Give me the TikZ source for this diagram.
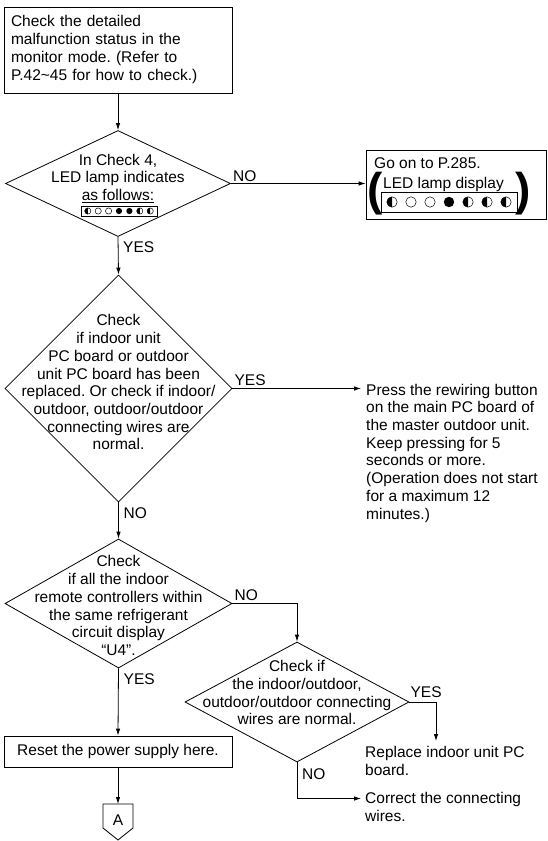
\documentclass[tikz,border=0pt]{standalone}
\usepackage{fontspec}
\setmainfont{Liberation Sans}
\usetikzlibrary{shapes.geometric,arrows.meta}
\frenchspacing
\newcommand\ledE[3]{\draw[line width=0.5pt] (#1,#2) circle (#3);}
\newcommand\ledF[3]{\fill (#1,#2) circle (#3);}
\newcommand\ledH[3]{\draw[line width=0.5pt] (#1,#2) circle (#3); \fill (#1,#2) ++(0,#3) arc (90:270:#3) -- cycle;}
\begin{document}
\begin{tikzpicture}[x=1pt,y=-1pt,
  every node/.style={font=\fontsize{15.5}{17.7}\selectfont},
  arr/.style={line width=0.8pt,-{Latex[length=7pt,width=4.5pt]}},
  ln/.style={line width=0.8pt},
  box/.style={draw,line width=0.8pt,inner sep=0pt},
  dia/.style={draw,diamond,line width=0.8pt,inner sep=0pt},
  txt/.style={align=center,inner sep=0pt},
  ltxt/.style={align=left,inner sep=0pt,anchor=north west},
  lblr/.style={inner sep=0pt,anchor=south west},
  lbld/.style={inner sep=0pt,anchor=north west},
]
\useasboundingbox (0,0) rectangle (548,841);

% box 1
\node[box, minimum width=228pt, minimum height=86pt, text width=214pt, align=left] (b1) at (118,50)
 {\strut Check the detailed\\ malfunction status in the\\ monitor mode. (Refer to\\ P.42\textasciitilde45 for how to check.)\strut};

% diamond 1
\node[dia, minimum width=225pt, minimum height=106pt] (d1) at (118,183.5) {};
\node[txt] (d1t) at (118,179.2) {\strut In Check 4,\\ LED lamp indicates\\ \underline{as follows:}\strut};
\draw[line width=0.7pt] (81,206) rectangle (157,216);
\ledH{87.8}{211}{3.1}\ledE{98.2}{211}{3.1}\ledE{108.6}{211}{3.1}\ledF{119}{211}{3.1}
\ledF{129.4}{211}{3.1}\ledH{139.8}{211}{3.1}\ledH{150.2}{211}{3.1}

% box 2
\node[box, minimum width=180pt, minimum height=69pt] (b2) at (456,184.5) {};
\node[inner sep=0pt, anchor=base west] (b2a) at (374,168) {Go on to P.285.};
\node[inner sep=0pt, anchor=base west] (b2b) at (383,188.5) {LED lamp display};
\node[inner sep=0pt, font=\fontsize{46}{46}\selectfont\bfseries] (pl) at (375,194) {(};
\node[inner sep=0pt, font=\fontsize{46}{46}\selectfont\bfseries] (pr) at (523,194) {)};
\draw[line width=0.8pt] (381,192) rectangle (517,212);
\ledH{392}{202}{5.2}\ledE{411}{202}{5.2}\ledE{430}{202}{5.2}\ledF{449}{202}{5.2}
\ledH{468}{202}{5.2}\ledH{487}{202}{5.2}\ledH{506}{202}{5.2}

% diamond 2
\node[dia, minimum width=227pt, minimum height=227pt] (d2) at (118.5,388.5) {};
\node[txt] (d2t) at (118.5,384.4) {\strut Check\\ if indoor unit\\ PC board or outdoor\\ unit PC board has been\\ replaced. Or check if indoor/\\ outdoor, outdoor/outdoor\\ connecting wires are\\ normal.\strut};
\node[ltxt] (n1) at (366,382.6) {\strut Press the rewiring button\\ on the main PC board of\\ the master outdoor unit.\\ Keep pressing for 5\\ seconds or more.\\ (Operation does not start\\ for a maximum 12\\ minutes.)\strut};
\coordinate (p1) at (361,388.5);

% diamond 3
\node[dia, minimum width=227pt, minimum height=129pt] (d3) at (118.5,603.5) {};
\node[txt] (d3t) at (118.5,607.7) {\strut Check\\ if all the indoor\\ remote controllers within\\ the same refrigerant\\ circuit display\\ “U4”.\strut};

% diamond 4
\node[dia, minimum width=224pt, minimum height=120pt] (d4) at (297,702) {};
\node[txt] (d4t) at (297,694.7) {\strut Check if\\ the indoor/outdoor,\\ outdoor/outdoor connecting\\ wires are normal.\strut};
\coordinate (k4) at (436,702);
\coordinate (r1) at (436,741);
\node[ltxt] (n2) at (365,745) {\strut Replace indoor unit PC\\ board.\strut};
\coordinate (k5) at (297,798.5);
\coordinate (c1) at (361,798.5);
\node[ltxt] (n3) at (365,791) {\strut Correct the connecting\\ wires.\strut};

% box 3
\node[box, minimum width=228pt, minimum height=31pt] (b3) at (118,751.5) {Reset the power supply here.};

% connector A
\coordinate (At) at (118,804);
\draw[line width=0.8pt] (103,804) -- (133,804) -- (133,828) -- (118,840) -- (103,828) -- cycle;
\node[inner sep=0pt] (A) at (118,820) {A};

% connectors
\draw[arr] (b1.south) -- (d1.north);
\draw[arr] (d1.east) -- (d1.east -| b2.west);
\draw[arr] (d1.south) -- (d2.north);
\draw[arr] (d2.east) -- (p1);
\draw[arr] (d2.south) -- (d3.north);
\draw[arr] (d3.east) -| (d4.north);
\draw[arr] (d4.east) -- (k4) -- (r1);
\draw[arr] (d4.south) -- (k5) -- (c1);
\draw[arr] (d3.south) -- (b3.north);
\draw[arr] (b3.south) -- (At);

% labels
\node[lblr] (l1) at ([shift={(2,-2)}]d1.east) {NO};
\node[lbld] (l2) at ([shift={(5,5)}]d1.south) {YES};
\node[lblr] (l3) at ([shift={(2,-3)}]d2.east) {YES};
\node[lbld] (l4) at ([shift={(5,5)}]d2.south) {NO};
\node[lblr] (l5) at ([shift={(2,-3)}]d3.east) {NO};
\node[lbld] (l6) at ([shift={(5,5)}]d3.south) {YES};
\node[lblr] (l7) at ([shift={(1,-4)}]d4.east) {YES};
\node[lbld] (l8) at ([shift={(5,6)}]d4.south) {NO};
\end{tikzpicture}
\end{document}
